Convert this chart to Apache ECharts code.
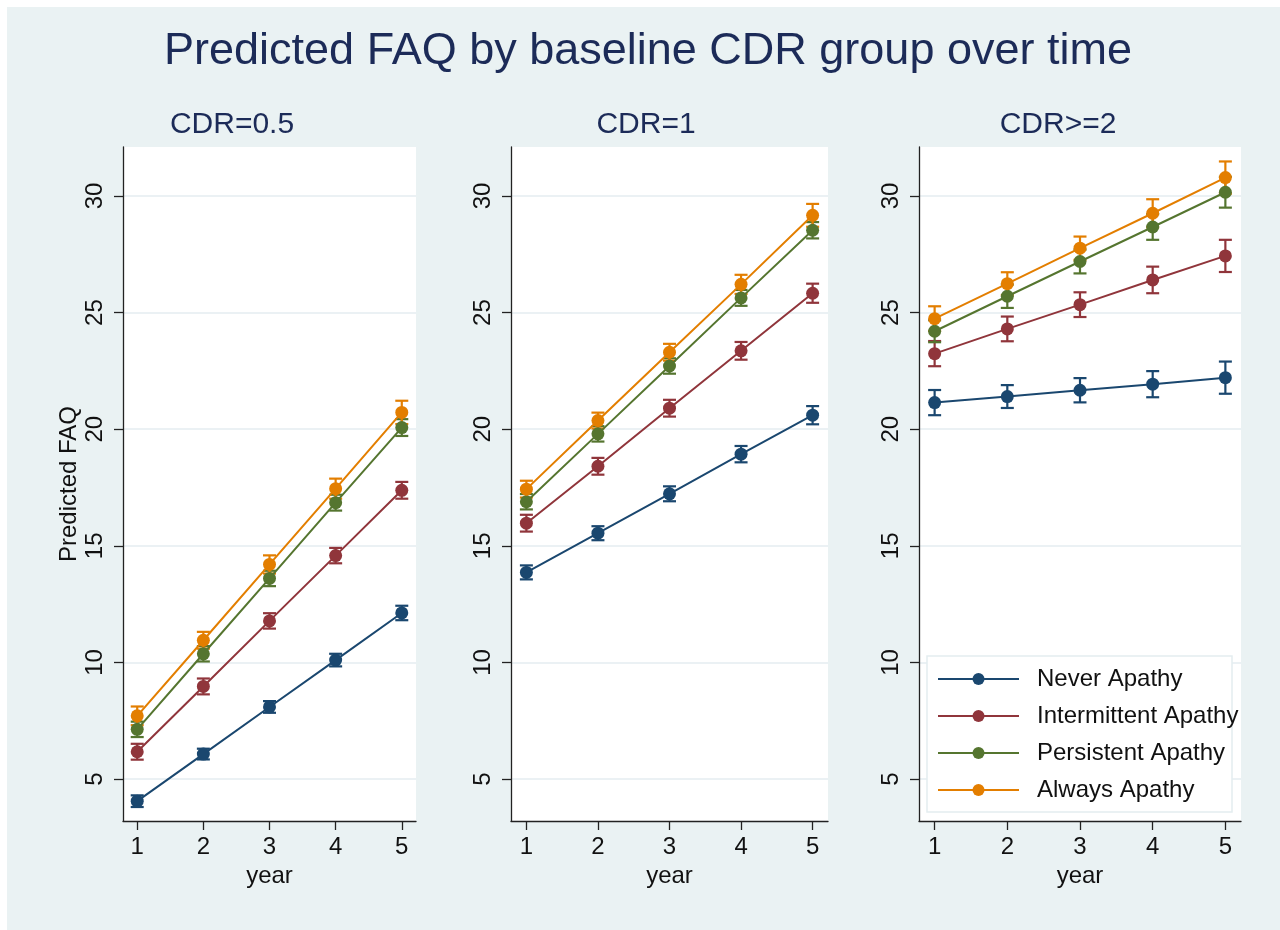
<!DOCTYPE html>
<html>
<head>
<meta charset="utf-8">
<script src="https://cdn.jsdelivr.net/npm/echarts@6/dist/echarts.min.js"></script>
<style>
html,body{margin:0;padding:0;background:#fff;}
#chart{width:1280px;height:930px;}
</style>
</head>
<body>
<div id="chart"></div>
<script>
// ---------- data ----------
const years = [1, 2, 3, 4, 5];
const yTickValues = [5, 10, 15, 20, 25, 30];
const groupNames = ['Never Apathy', 'Intermittent Apathy', 'Persistent Apathy', 'Always Apathy'];
const panelTitles = ['CDR=0.5', 'CDR=1', 'CDR>=2'];

// CDR = 0.5
const cdr05Never = [4.05, 6.07, 8.09, 10.10, 12.12];
const cdr05Inter = [6.17, 8.97, 11.78, 14.58, 17.38];
const cdr05Pers = [7.13, 10.37, 13.60, 16.85, 20.07];
const cdr05Always = [7.71, 10.95, 14.20, 17.45, 20.72];
const cdr05NeverCI = [0.25, 0.23, 0.25, 0.27, 0.31];
const cdr05InterCI = [0.34, 0.34, 0.33, 0.33, 0.36];
const cdr05PersCI = [0.33, 0.33, 0.33, 0.34, 0.36];
const cdr05AlwaysCI = [0.40, 0.36, 0.39, 0.43, 0.50];

// CDR = 1
const cdr1Never = [13.86, 15.54, 17.23, 18.93, 20.60];
const cdr1Inter = [15.97, 18.41, 20.90, 23.36, 25.83];
const cdr1Pers = [16.89, 19.80, 22.71, 25.63, 28.53];
const cdr1Always = [17.43, 20.37, 23.30, 26.21, 29.17];
const cdr1NeverCI = [0.30, 0.30, 0.32, 0.35, 0.39];
const cdr1InterCI = [0.36, 0.36, 0.36, 0.38, 0.41];
const cdr1PersCI = [0.33, 0.33, 0.33, 0.34, 0.35];
const cdr1AlwaysCI = [0.36, 0.34, 0.36, 0.41, 0.49];

// CDR >= 2
const cdr2Never = [21.14, 21.40, 21.67, 21.93, 22.21];
const cdr2Inter = [23.24, 24.30, 25.34, 26.40, 27.43];
const cdr2Pers = [24.20, 25.70, 27.19, 28.67, 30.16];
const cdr2Always = [24.74, 26.24, 27.76, 29.26, 30.79];
const cdr2NeverCI = [0.54, 0.49, 0.52, 0.56, 0.69];
const cdr2InterCI = [0.54, 0.53, 0.53, 0.57, 0.69];
const cdr2PersCI = [0.47, 0.50, 0.51, 0.55, 0.66];
const cdr2AlwaysCI = [0.53, 0.49, 0.50, 0.60, 0.69];

// ---------- styling ----------
const colors = ['#1a476f', '#90353b', '#55752f', '#e37e00'];
const FONT = "'Liberation Sans', Arial, sans-serif";
const titleColor = '#1c2b58';
const textColor = '#111';
const axisColor = '#222';
const gridColor = '#e4edf0';

const panels = [
  {values: [cdr05Never, cdr05Inter, cdr05Pers, cdr05Always], ci: [cdr05NeverCI, cdr05InterCI, cdr05PersCI, cdr05AlwaysCI]},
  {values: [cdr1Never, cdr1Inter, cdr1Pers, cdr1Always], ci: [cdr1NeverCI, cdr1InterCI, cdr1PersCI, cdr1AlwaysCI]},
  {values: [cdr2Never, cdr2Inter, cdr2Pers, cdr2Always], ci: [cdr2NeverCI, cdr2InterCI, cdr2PersCI, cdr2AlwaysCI]}
];

const gridBoxes = [
  {left: 123, top: 147, width: 293, height: 674},
  {left: 511, top: 147, width: 317, height: 674},
  {left: 919, top: 147, width: 322, height: 674}
];
const subtitleX = [232, 646, 1058];

const grids = gridBoxes.map(b => Object.assign({show: true, backgroundColor: '#fff', borderWidth: 0}, b));

const xAxes = gridBoxes.map((b, i) => ({
  type: 'value', gridIndex: i, min: 0.785, max: 5.215,
  axisLine: {show: true, onZero: false, lineStyle: {color: axisColor, width: 1.3}},
  axisTick: {show: true, length: 9, customValues: years, lineStyle: {color: axisColor, width: 1.3}},
  axisLabel: {customValues: years, fontSize: 24, fontFamily: FONT, color: textColor, margin: 14},
  splitLine: {show: false},
  name: 'year', nameLocation: 'middle', nameGap: 38,
  nameTextStyle: {fontSize: 24, fontFamily: FONT, color: textColor}
}));

const yAxes = gridBoxes.map((b, i) => ({
  type: 'value', gridIndex: i, min: 3.2, max: 32.1,
  axisLine: {show: true, onZero: false, lineStyle: {color: axisColor, width: 1.3}},
  axisTick: {show: true, length: 9, customValues: yTickValues, lineStyle: {color: axisColor, width: 1.3}},
  axisLabel: {customValues: yTickValues, rotate: 90, fontSize: 24, fontFamily: FONT, color: textColor, margin: 16},
  splitLine: {show: true, lineStyle: {color: gridColor, width: 1.5}},
  name: i === 0 ? 'Predicted FAQ' : '',
  nameLocation: 'middle', nameGap: 42,
  nameTextStyle: {fontSize: 24, fontFamily: FONT, color: textColor}
}));

function errBarRender(color) {
  return function (params, api) {
    const x = api.value(0), lo = api.value(1), hi = api.value(2);
    const pLo = api.coord([x, lo]);
    const pHi = api.coord([x, hi]);
    const w = 6.5;
    const st = {stroke: color, lineWidth: 2.2, fill: null};
    return {
      type: 'group',
      children: [
        {type: 'line', shape: {x1: pLo[0], y1: pLo[1], x2: pHi[0], y2: pHi[1]}, style: st},
        {type: 'line', shape: {x1: pLo[0] - w, y1: pLo[1], x2: pLo[0] + w, y2: pLo[1]}, style: st},
        {type: 'line', shape: {x1: pHi[0] - w, y1: pHi[1], x2: pHi[0] + w, y2: pHi[1]}, style: st}
      ]
    };
  };
}

const series = [];
panels.forEach((p, pi) => {
  groupNames.forEach((name, gi) => {
    const vals = p.values[gi], ci = p.ci[gi];
    series.push({
      type: 'line', name: name, xAxisIndex: pi, yAxisIndex: pi, z: 3,
      data: years.map((y, k) => [y, vals[k]]),
      symbol: 'circle', symbolSize: 13, showSymbol: true,
      itemStyle: {color: colors[gi]},
      lineStyle: {color: colors[gi], width: 2},
      animation: false
    });
    series.push({
      type: 'custom', name: name + ' 95% CI', xAxisIndex: pi, yAxisIndex: pi, z: 2,
      renderItem: errBarRender(colors[gi]),
      itemStyle: {color: colors[gi]},
      data: years.map((y, k) => [y, vals[k] - ci[k], vals[k] + ci[k]]),
      silent: true
    });
  });
});

const graphics = [
  {type: 'rect', shape: {x: 7, y: 7, width: 1273, height: 923}, style: {fill: '#eaf2f3'}, z: -10, silent: true},
  {type: 'text', x: 648, y: 52, z: 10,
   style: {text: 'Predicted FAQ by baseline CDR group over time', fill: titleColor, font: '45px ' + FONT, textAlign: 'center', textVerticalAlign: 'middle'}},
  // legend box
  {type: 'rect', shape: {x: 927, y: 656, width: 305, height: 156}, style: {fill: '#fff', stroke: '#e4edf0', lineWidth: 1.5}, z: 3, silent: true}
];
panelTitles.forEach((t, i) => {
  graphics.push({type: 'text', x: subtitleX[i], y: 125, z: 10,
    style: {text: t, fill: titleColor, font: '30px ' + FONT, textAlign: 'center', textVerticalAlign: 'middle'}});
});

const chart = echarts.init(document.getElementById('chart'), null, {renderer: 'canvas'});
chart.setOption({
  animation: false,
  backgroundColor: '#fff',
  textStyle: {fontFamily: FONT},
  grid: grids,
  xAxis: xAxes,
  yAxis: yAxes,
  legend: {
    data: groupNames,
    orient: 'vertical', left: 927, top: 656,
    padding: [11, 10, 10, 10],
    itemWidth: 81, itemHeight: 15, itemGap: 13,
    z: 5,
    textStyle: {fontSize: 24, fontFamily: FONT, color: textColor, lineHeight: 24, padding: [0, 0, 0, 13]},
    selectedMode: false
  },
  graphic: graphics,
  series: series
});
</script>
</body>
</html>
